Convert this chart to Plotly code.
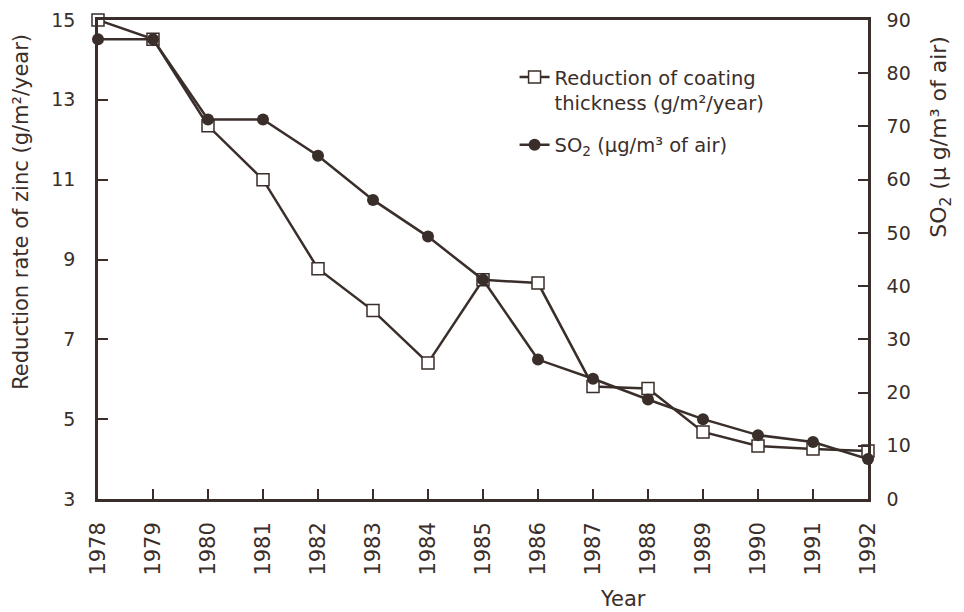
import plotly.graph_objects as go

years = list(range(1978, 1993))
coating = [15.0, 14.52, 12.35, 11.0, 8.77, 7.72, 6.41, 8.49, 8.41, 5.82, 5.77, 4.68, 4.33, 4.25, 4.2]
so2 = [86.4, 86.4, 71.3, 71.3, 64.5, 56.2, 49.3, 41.2, 26.2, 22.6, 18.7, 15.0, 12.0, 10.7, 7.5]

left_ticks = [3, 5, 7, 9, 11, 13, 15]
right_ticks = [0, 10, 20, 30, 40, 50, 60, 70, 80, 90]

ink = "#3a2e2a"
font = "DejaVu Sans, Liberation Sans, Arial, sans-serif"

fig = go.Figure()
fig.add_trace(go.Scatter(
    x=years, y=coating, yaxis="y", mode="lines+markers",
    name="Reduction of coating<br>thickness (g/m²/year)", legendgroup="a",
    line=dict(color=ink, width=2.5),
    marker=dict(symbol="square", size=12, color="white", line=dict(color=ink, width=1.5)),
    cliponaxis=False,
))
fig.add_trace(go.Scatter(
    x=years, y=so2, yaxis="y2", mode="lines+markers",
    name="SO<sub>2</sub> (μg/m³ of air)", legendgroup="b",
    line=dict(color=ink, width=2.5),
    marker=dict(symbol="circle", size=12, color=ink),
    cliponaxis=False,
))

axis_common = dict(
    showline=True, linecolor=ink, linewidth=2.5,
    ticks="inside", ticklen=10, tickwidth=2, tickcolor=ink,
    showgrid=False, zeroline=False, automargin=False,
    ticklabeloverflow="allow",
)

fig.update_layout(
    width=964, height=612,
    margin=dict(l=90, r=104, t=12, b=121),
    paper_bgcolor="white", plot_bgcolor="white",
    font=dict(family=font, size=20, color=ink),
    showlegend=True,
    legend=dict(x=0.541, y=0.921, xanchor="left", yanchor="top",
                bgcolor="rgba(0,0,0,0)", font=dict(size=19.5, color=ink), valign="top",
                tracegroupgap=14),
    xaxis=dict(
        range=[1978, 1992], tickmode="array", tickvals=years,
        ticktext=[str(y) for y in years], tickangle=-90,
        tickfont=dict(size=21, color=ink), ticklabelstandoff=12,
        mirror=True, **axis_common,
    ),
    yaxis=dict(
        range=[3, 15], tickmode="array", tickvals=left_ticks,
        tickfont=dict(size=19, color=ink), ticklabelstandoff=16,
        **axis_common,
    ),
    yaxis2=dict(
        range=[0, 90], tickmode="array", tickvals=right_ticks,
        overlaying="y", side="right",
        tickfont=dict(size=19, color=ink), ticklabelstandoff=12,
        **axis_common,
    ),
    annotations=[
        dict(text="Year", xref="paper", yref="paper", x=0.682, y=-0.208,
             xanchor="center", yanchor="middle",
             showarrow=False, font=dict(size=21, color=ink)),
        dict(text="Reduction rate of zinc (g/m²/year)", xref="paper", yref="paper",
             x=-0.101, y=0.6, xanchor="center", yanchor="middle",
             textangle=-90, showarrow=False,
             font=dict(size=21, color=ink)),
        dict(text="SO<sub>2</sub> (μ g/m³ of air)", xref="paper", yref="paper",
             x=1.094, y=0.757, xanchor="center", yanchor="middle",
             textangle=-90, showarrow=False,
             font=dict(size=22, color=ink)),
    ],
)

fig.write_html("out.html")
